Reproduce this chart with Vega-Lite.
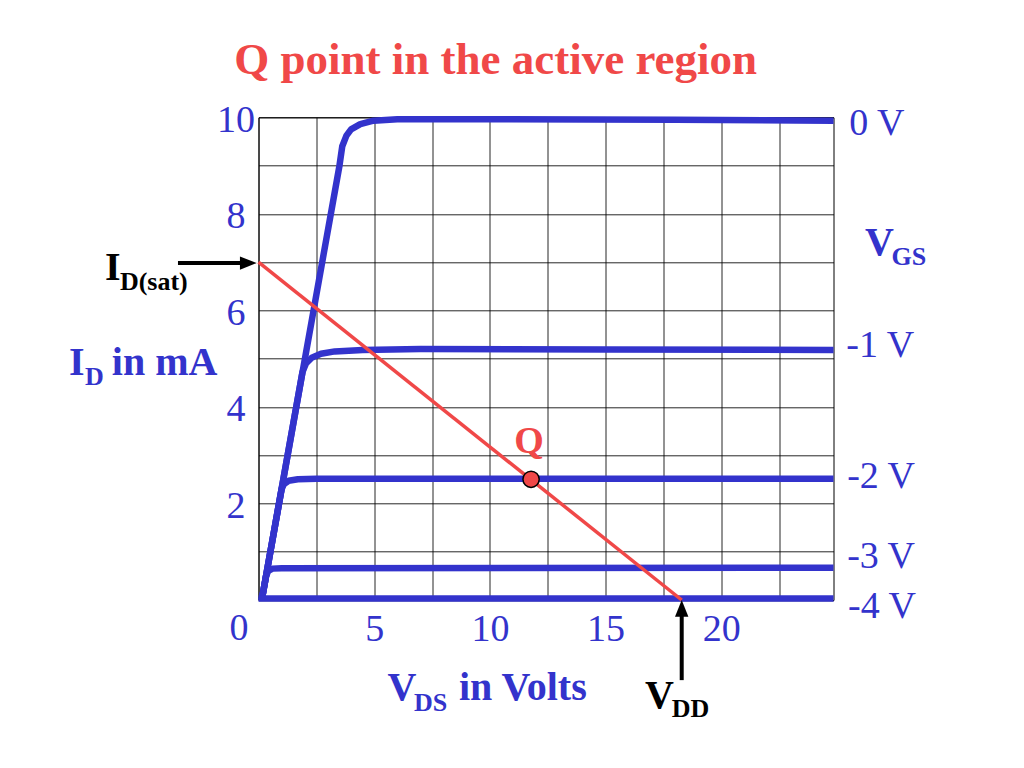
{
  "$schema": "https://vega.github.io/schema/vega-lite/v6.json",
  "width": 575,
  "height": 482.7,
  "autosize": "none",
  "padding": {"left": 258.5, "top": 117.3, "right": 190.5, "bottom": 168},
  "background": "white",
  "config": {"view": {"stroke": "#000", "strokeWidth": 1}, "font": "Liberation Serif"},
  "datasets": {
    "curves": [
      {"vgs": "0 V", "V": 0.14, "I": 0},
      {"vgs": "0 V", "V": 3.5, "I": 9.0},
      {"vgs": "0 V", "V": 3.62, "I": 9.4},
      {"vgs": "0 V", "V": 3.8, "I": 9.62},
      {"vgs": "0 V", "V": 4.0, "I": 9.75},
      {"vgs": "0 V", "V": 4.4, "I": 9.86},
      {"vgs": "0 V", "V": 4.97, "I": 9.93},
      {"vgs": "0 V", "V": 6, "I": 9.96},
      {"vgs": "0 V", "V": 10, "I": 9.96},
      {"vgs": "0 V", "V": 18, "I": 9.95},
      {"vgs": "0 V", "V": 24.85, "I": 9.93},
      {"vgs": "-1 V", "V": 0.14, "I": 0},
      {"vgs": "-1 V", "V": 1.9, "I": 4.72},
      {"vgs": "-1 V", "V": 2.05, "I": 4.9},
      {"vgs": "-1 V", "V": 2.3, "I": 5.02},
      {"vgs": "-1 V", "V": 2.7, "I": 5.1},
      {"vgs": "-1 V", "V": 3.3, "I": 5.15},
      {"vgs": "-1 V", "V": 4.5, "I": 5.18},
      {"vgs": "-1 V", "V": 7, "I": 5.2},
      {"vgs": "-1 V", "V": 15, "I": 5.19},
      {"vgs": "-1 V", "V": 24.85, "I": 5.18},
      {"vgs": "-2 V", "V": 0.14, "I": 0},
      {"vgs": "-2 V", "V": 1.0, "I": 2.3},
      {"vgs": "-2 V", "V": 1.1, "I": 2.4},
      {"vgs": "-2 V", "V": 1.3, "I": 2.47},
      {"vgs": "-2 V", "V": 1.7, "I": 2.5},
      {"vgs": "-2 V", "V": 2.5, "I": 2.51},
      {"vgs": "-2 V", "V": 24.85, "I": 2.51},
      {"vgs": "-3 V", "V": 0.14, "I": 0},
      {"vgs": "-3 V", "V": 0.33, "I": 0.5},
      {"vgs": "-3 V", "V": 0.42, "I": 0.6},
      {"vgs": "-3 V", "V": 0.6, "I": 0.65},
      {"vgs": "-3 V", "V": 1.0, "I": 0.66},
      {"vgs": "-3 V", "V": 24.85, "I": 0.67},
      {"vgs": "-4 V", "V": 0, "I": 0.03},
      {"vgs": "-4 V", "V": 24.85, "I": 0.03}
    ],
    "load": [
      {"V": 0, "I": 7.0},
      {"V": 18.29, "I": 0}
    ],
    "qpoint": [
      {"V": 11.78, "I": 2.5}
    ],
    "shafts": [
      {"V": -3.48, "V2": -0.71, "I": 6.98, "I2": 6.98},
      {"V": 18.29, "V2": 18.29, "I": -0.29, "I2": -1.66}
    ],
    "heads": [
      {"dir": "right", "V": -0.44, "I": 6.98},
      {"dir": "up", "V": 18.29, "I": -0.174}
    ],
    "txt": [
      {"g": "title", "t": "Q point in the active region", "V": 10.25, "I": 10.905},
      {"g": "tick", "t": "0", "V": -0.84, "I": -0.83},
      {"g": "vg", "t": "0 V", "V": 25.53, "I": 9.63},
      {"g": "vg", "t": "-1 V", "V": 25.4, "I": 5.04},
      {"g": "vg", "t": "-2 V", "V": 25.44, "I": 2.32},
      {"g": "vg", "t": "-3 V", "V": 25.44, "I": 0.66},
      {"g": "vg", "t": "-4 V", "V": 25.48, "I": -0.37},
      {"g": "bb", "t": "I", "V": -8.19, "I": 4.66},
      {"g": "bb", "t": "in mA", "V": -6.34, "I": 4.66},
      {"g": "bb", "t": "V", "V": 26.21, "I": 7.15},
      {"g": "bb", "t": "V", "V": 5.57, "I": -2.07},
      {"g": "bb", "t": "in Volts", "V": 8.66, "I": -2.07},
      {"g": "bs", "t": "D", "V": -7.5, "I": 4.45},
      {"g": "bs", "t": "GS", "V": 27.36, "I": 6.94},
      {"g": "bs", "t": "DS", "V": 6.72, "I": -2.3},
      {"g": "kb", "t": "I", "V": -6.63, "I": 6.63},
      {"g": "kb", "t": "V", "V": 16.7, "I": -2.24},
      {"g": "ks", "t": "D(sat)", "V": -5.99, "I": 6.42},
      {"g": "ks", "t": "DD", "V": 17.86, "I": -2.42},
      {"g": "q", "t": "Q", "V": 11.69, "I": 3.05}
    ]
  },
  "encoding": {
    "x": {
      "field": "V", "type": "quantitative",
      "scale": {"domain": [0, 24.85], "nice": false, "zero": false},
      "axis": {
        "title": null,
        "values": [0, 2.5, 5, 7.5, 10, 12.5, 15, 17.5, 20, 22.5],
        "labelExpr": "datum.value % 5 == 0 && datum.value > 0 ? datum.label : ''",
        "grid": true, "gridColor": "#000", "gridOpacity": 0.85, "gridWidth": 1,
        "ticks": false, "tickSize": 0, "domain": false,
        "labelFont": "Liberation Serif", "labelFontSize": 38, "labelColor": "#3333CC",
        "labelPadding": 10, "labelFlush": false, "labelOverlap": false, "labelBaseline": "top"
      }
    },
    "y": {
      "field": "I", "type": "quantitative",
      "scale": {"domain": [0, 10], "nice": false, "zero": false},
      "axis": {
        "title": null,
        "values": [0, 1, 2, 3, 4, 5, 6, 7, 8, 9, 10],
        "labelExpr": "datum.value % 2 == 0 && datum.value > 0 ? datum.label : ''",
        "grid": true, "gridColor": "#000", "gridOpacity": 0.85, "gridWidth": 1,
        "ticks": false, "tickSize": 0, "domain": false,
        "labelFont": "Liberation Serif", "labelFontSize": 38, "labelColor": "#3333CC",
        "labelPadding": 23, "labelAlign": "center", "labelBaseline": "middle", "labelOffset": 3,
        "labelFlush": false, "labelOverlap": false
      }
    }
  },
  "layer": [
    {
      "data": {"name": "curves"},
      "mark": {"type": "line", "color": "#3333CC", "strokeWidth": 6.5, "strokeJoin": "round", "strokeCap": "butt"},
      "encoding": {"detail": {"field": "vgs"}}
    },
    {
      "data": {"name": "load"},
      "mark": {"type": "line", "color": "#F04848", "strokeWidth": 3.5},
      "encoding": {}
    },
    {
      "data": {"name": "qpoint"},
      "mark": {"type": "point", "shape": "circle", "filled": true, "fill": "#F04848", "stroke": "#000", "strokeWidth": 1.5, "size": 265, "opacity": 1}
    },
    {
      "data": {"name": "shafts"},
      "mark": {"type": "rule", "color": "#000", "strokeWidth": 4},
      "encoding": {"x2": {"field": "V2"}, "y2": {"field": "I2"}}
    },
    {
      "data": {"name": "heads"},
      "transform": [{"filter": "datum.dir == 'right'"}],
      "mark": {"type": "point", "shape": "M-1,-0.8L1,0L-1,0.8Z", "filled": true, "fill": "#000", "strokeWidth": 0, "size": 279, "opacity": 1}
    },
    {
      "data": {"name": "heads"},
      "transform": [{"filter": "datum.dir == 'up'"}],
      "mark": {"type": "point", "shape": "M-0.8,1L0,-1L0.8,1Z", "filled": true, "fill": "#000", "strokeWidth": 0, "size": 279, "opacity": 1}
    },
    {
      "data": {"name": "txt"},
      "transform": [{"filter": "datum.g == 'title'"}],
      "mark": {"type": "text", "font": "Liberation Serif", "fontSize": 45, "fontWeight": "bold", "color": "#F04848", "align": "center", "baseline": "alphabetic"},
      "encoding": {"text": {"field": "t"}}
    },
    {
      "data": {"name": "txt"},
      "transform": [{"filter": "datum.g == 'tick'"}],
      "mark": {"type": "text", "font": "Liberation Serif", "fontSize": 38, "color": "#3333CC", "align": "center", "baseline": "alphabetic"},
      "encoding": {"text": {"field": "t"}}
    },
    {
      "data": {"name": "txt"},
      "transform": [{"filter": "datum.g == 'vg'"}],
      "mark": {"type": "text", "font": "Liberation Serif", "fontSize": 38, "color": "#3333CC", "align": "left", "baseline": "alphabetic"},
      "encoding": {"text": {"field": "t"}}
    },
    {
      "data": {"name": "txt"},
      "transform": [{"filter": "datum.g == 'bb'"}],
      "mark": {"type": "text", "font": "Liberation Serif", "fontSize": 40, "fontWeight": "bold", "color": "#3333CC", "align": "left", "baseline": "alphabetic"},
      "encoding": {"text": {"field": "t"}}
    },
    {
      "data": {"name": "txt"},
      "transform": [{"filter": "datum.g == 'bs'"}],
      "mark": {"type": "text", "font": "Liberation Serif", "fontSize": 26, "fontWeight": "bold", "color": "#3333CC", "align": "left", "baseline": "alphabetic"},
      "encoding": {"text": {"field": "t"}}
    },
    {
      "data": {"name": "txt"},
      "transform": [{"filter": "datum.g == 'kb'"}],
      "mark": {"type": "text", "font": "Liberation Serif", "fontSize": 40, "fontWeight": "bold", "color": "#000", "align": "left", "baseline": "alphabetic"},
      "encoding": {"text": {"field": "t"}}
    },
    {
      "data": {"name": "txt"},
      "transform": [{"filter": "datum.g == 'ks'"}],
      "mark": {"type": "text", "font": "Liberation Serif", "fontSize": 26, "fontWeight": "bold", "color": "#000", "align": "left", "baseline": "alphabetic"},
      "encoding": {"text": {"field": "t"}}
    },
    {
      "data": {"name": "txt"},
      "transform": [{"filter": "datum.g == 'q'"}],
      "mark": {"type": "text", "font": "Liberation Serif", "fontSize": 38, "fontWeight": "bold", "color": "#F04848", "align": "center", "baseline": "alphabetic"},
      "encoding": {"text": {"field": "t"}}
    }
  ]
}
